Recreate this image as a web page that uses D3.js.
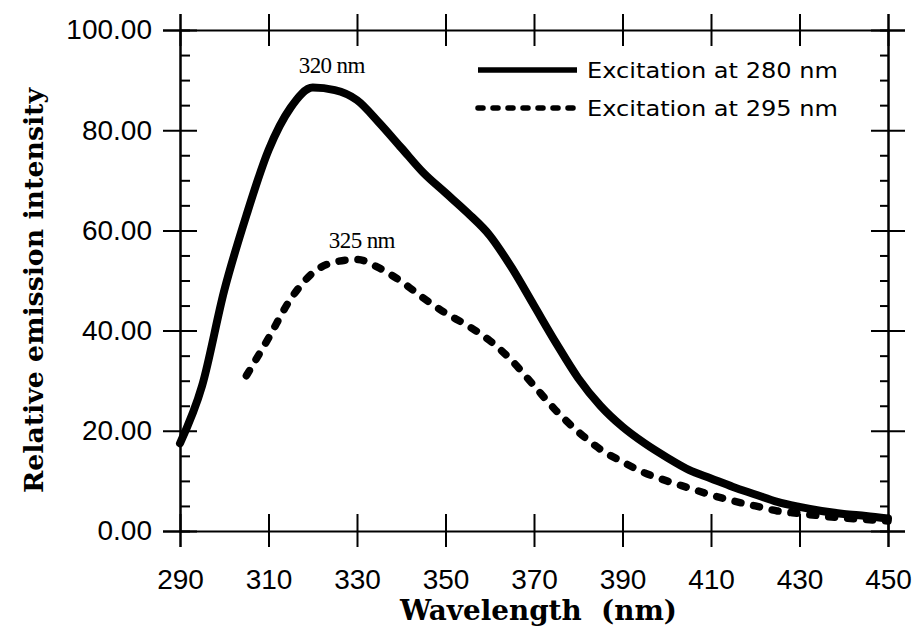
<!DOCTYPE html>
<html>
<head>
<meta charset="utf-8">
<script src="https://cdn.jsdelivr.net/npm/d3@7/dist/d3.min.js"></script>
<style>
  body { margin: 0; background: #fff; }
  .tick text { font-family: "Liberation Sans", Arial, sans-serif; font-size: 28px; fill: #000; }
</style>
</head>
<body>
<svg id="chart"></svg>
<script>
///////////////////////////////////////////////////////////
// Data

const wl280 = [290, 295, 300, 305, 310, 315, 320, 325, 330, 335, 340, 345, 350, 355, 360, 365,
  370, 375, 380, 385, 390, 395, 400, 405, 410, 415, 420, 425, 430, 435, 440, 445, 450];
const ex280 = [17.5, 29, 48, 63, 76, 84.5, 88.5, 88, 86, 81.5, 76.5, 71.5, 67.5, 63.5, 59, 52.5,
  45, 37.5, 30.5, 25, 20.8, 17.5, 14.7, 12.2, 10.5, 8.8, 7.3, 5.8, 4.8, 4, 3.4, 3, 2.5];

const wl295 = [305, 310, 315, 320, 325, 330, 335, 340, 345, 350, 355, 360, 365, 370, 375,
  380, 385, 390, 395, 400, 405, 410, 415, 420, 425, 430, 435, 440, 445, 450];
const ex295 = [31, 38.5, 46.3, 51.5, 53.7, 54.2, 52.5, 49.8, 46.5, 43.5, 41, 38, 34, 29, 24,
  19.8, 16.3, 13.8, 11.6, 10, 8.6, 7.2, 6, 5, 4, 3.5, 3, 2.6, 2.3, 2];

const seriesNames = ["Excitation at 280 nm", "Excitation at 295 nm"];
const peakLabels = ["320 nm", "325 nm"];
const peakLabelWl = [324.3, 331.1];
const peakLabelVal = [91.5, 56.5];

const xTicks = [290, 310, 330, 350, 370, 390, 410, 430, 450];
const yTicks = [0, 20, 40, 60, 80, 100];
const yMinor = [5, 10, 15, 25, 30, 35, 45, 50, 55, 65, 70, 75, 85, 90, 95];

const xTitle = "Wavelength  (nm)";
const yTitle = "Relative emission intensity";

///////////////////////////////////////////////////////////
// Layout

const width = 917, height = 631;
const margin = { top: 30, right: 29, bottom: 100, left: 180 };

const svg = d3.select("#chart")
  .attr("width", width)
  .attr("height", height);

const x = d3.scaleLinear().domain([290, 450]).range([margin.left, width - margin.right]);
const y = d3.scaleLinear().domain([0, 100]).range([height - margin.bottom, margin.top]);

const x0 = x.range()[0], x1 = x.range()[1];
const y0 = y.range()[0], y1 = y.range()[1];

///////////////////////////////////////////////////////////
// Axes (ticks cross the frame)

const bottomAxis = svg.append("g")
  .attr("transform", `translate(0,${y0})`)
  .call(d3.axisBottom(x).tickValues(xTicks).tickFormat(d3.format("d")).tickSize(16).tickPadding(22));
bottomAxis.selectAll(".tick line").attr("y1", -17);

const topAxis = svg.append("g")
  .attr("transform", `translate(0,${y1})`)
  .call(d3.axisTop(x).tickValues(xTicks).tickSize(16).tickFormat(""));
topAxis.selectAll(".tick line").attr("y1", 16);

const leftAxis = svg.append("g")
  .attr("transform", `translate(${x0},0)`)
  .call(d3.axisLeft(y).tickValues(yTicks).tickFormat(d3.format(".2f")).tickSize(17).tickPadding(11));
leftAxis.selectAll(".tick line").attr("x1", 17);

const rightAxis = svg.append("g")
  .attr("transform", `translate(${x1},0)`)
  .call(d3.axisRight(y).tickValues(yTicks).tickSize(17).tickFormat(""));
rightAxis.selectAll(".tick line").attr("x1", -17);

// minor ticks on the y axes, pointing inward
svg.append("g")
  .attr("transform", `translate(${x0},0)`)
  .call(d3.axisRight(y).tickValues(yMinor).tickSize(10).tickFormat(""));
svg.append("g")
  .attr("transform", `translate(${x1},0)`)
  .call(d3.axisLeft(y).tickValues(yMinor).tickSize(8).tickFormat(""));

svg.selectAll(".domain").attr("stroke", "#000").attr("stroke-width", 2);
svg.selectAll(".tick line").attr("stroke", "#000").attr("stroke-width", 2);

///////////////////////////////////////////////////////////
// Curves

const line = d3.line()
  .curve(d3.curveMonotoneX)
  .x(d => x(d[0]))
  .y(d => y(d[1]));

svg.append("path")
  .datum(d3.zip(wl280, ex280))
  .attr("d", line)
  .attr("fill", "none")
  .attr("stroke", "#000")
  .attr("stroke-width", 8)
  .attr("stroke-linejoin", "round")
  .attr("stroke-linecap", "round");

svg.append("path")
  .datum(d3.zip(wl295, ex295))
  .attr("d", line)
  .attr("fill", "none")
  .attr("stroke", "#000")
  .attr("stroke-width", 7.5)
  .attr("stroke-dasharray", "6,13")
  .attr("stroke-linecap", "round");

///////////////////////////////////////////////////////////
// Peak labels

svg.selectAll(".peak")
  .data(peakLabels)
  .enter().append("text")
  .attr("class", "peak")
  .attr("x", (d, i) => x(peakLabelWl[i]))
  .attr("y", (d, i) => y(peakLabelVal[i]))
  .attr("text-anchor", "middle")
  .attr("font-family", "Liberation Serif, serif")
  .attr("font-size", 23)
  .attr("letter-spacing", -0.6)
  .text(d => d);

///////////////////////////////////////////////////////////
// Legend

const legend = svg.append("g").attr("transform", "translate(478,70)");
const items = legend.selectAll("g")
  .data(seriesNames)
  .enter().append("g")
  .attr("transform", (d, i) => `translate(0,${i * 38})`);

items.append("line")
  .attr("x1", 0).attr("x2", 99)
  .attr("stroke", "#000")
  .attr("stroke-width", 5.5)
  .attr("stroke-dasharray", (d, i) => i === 0 ? null : "5,10")
  .attr("stroke-linecap", (d, i) => i === 0 ? "butt" : "round");

items.append("text")
  .attr("x", 109)
  .attr("y", 8)
  .attr("font-family", "DejaVu Sans, sans-serif")
  .attr("font-size", 22)
  .attr("textLength", 251)
  .attr("lengthAdjust", "spacingAndGlyphs")
  .text(d => d);

///////////////////////////////////////////////////////////
// Axis titles

svg.append("text")
  .attr("x", 400)
  .attr("y", 620)
  .attr("font-family", "DejaVu Serif, serif")
  .attr("font-weight", "bold")
  .attr("font-size", 27)
  .attr("textLength", 277)
  .attr("lengthAdjust", "spacingAndGlyphs")
  .style("white-space", "pre")
  .text(xTitle);

svg.append("text")
  .attr("transform", "translate(43,493) rotate(-90)")
  .attr("font-family", "DejaVu Serif, serif")
  .attr("font-weight", "bold")
  .attr("font-size", 26)
  .attr("textLength", 405)
  .attr("lengthAdjust", "spacingAndGlyphs")
  .text(yTitle);
</script>
</body>
</html>
